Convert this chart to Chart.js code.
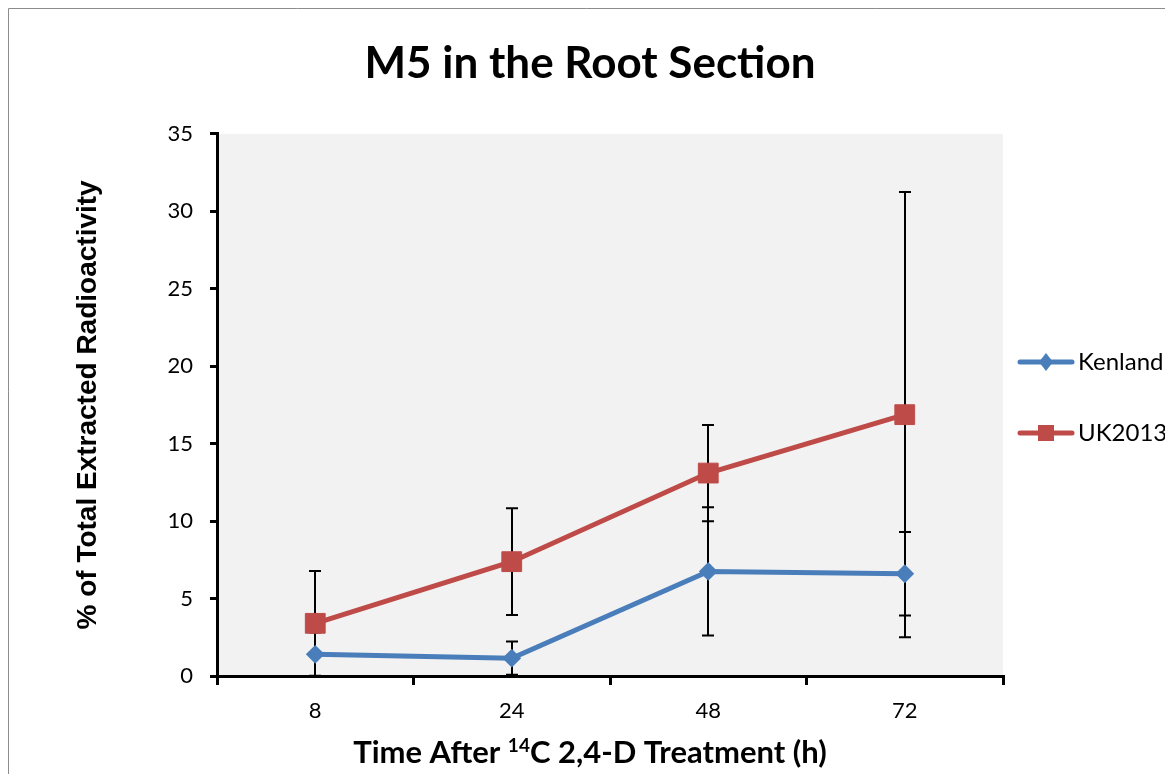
<!DOCTYPE html>
<html>
<head>
<meta charset="utf-8">
<script src="https://cdn.jsdelivr.net/npm/chart.js@4.4.1/dist/chart.umd.min.js"></script>
<style>
  html, body { margin: 0; padding: 0; background: #ffffff; }
  #wrap { width: 1165px; height: 774px; position: relative; }
</style>
</head>
<body>
<div id="wrap"><canvas id="c" width="1165" height="774"></canvas></div>
<script>
// ---- data ----
const categories = ['8', '24', '48', '72'];
const kenland = [1.4, 1.15, 6.75, 6.6];
const kenlandErr = [1.4, 1.07, 4.14, 2.69];
const uk2013 = [3.4, 7.38, 13.1, 16.87];
const uk2013Err = [3.38, 3.45, 3.11, 14.37];
const yMin = 0, yMax = 35, yStep = 5;
const titleText = 'M5 in the Root Section';
const yTitleText = '% of Total Extracted Radioactivity';
const xTitleParts = ['Time After ', '14', 'C 2,4-D Treatment (h)'];

const BLUE = '#4a7ebb';
const RED = '#be4b48';

function legendImage(color, shape) {
  const cv = document.createElement('canvas');
  cv.width = 58; cv.height = 20;
  const g = cv.getContext('2d');
  g.strokeStyle = color; g.lineWidth = 5; g.lineCap = 'round';
  g.beginPath(); g.moveTo(3, 10); g.lineTo(55, 10); g.stroke();
  g.fillStyle = color;
  if (shape === 'diamond') {
    g.beginPath(); g.moveTo(29, 1); g.lineTo(36, 10); g.lineTo(29, 19); g.lineTo(22, 10); g.closePath(); g.fill();
  } else {
    g.fillRect(21, 2, 16, 16);
  }
  return cv;
}
const legendImgs = [legendImage(BLUE, 'diamond'), legendImage(RED, 'square')];

const errorBars = {
  id: 'errorBars',
  beforeDatasetsDraw(chart) {
    const ctx = chart.ctx, ca = chart.chartArea;
    const errs = [kenlandErr, uk2013Err];
    ctx.save();
    ctx.beginPath(); ctx.rect(ca.left, ca.top, ca.right - ca.left, ca.bottom - ca.top); ctx.clip();
    ctx.strokeStyle = '#000'; ctx.lineWidth = 2;
    chart.data.datasets.forEach((ds, di) => {
      const meta = chart.getDatasetMeta(di);
      meta.data.forEach((pt, i) => {
        const v = ds.data[i], e = errs[di][i];
        const y1 = chart.scales.y.getPixelForValue(v + e);
        const y2 = chart.scales.y.getPixelForValue(v - e);
        const x = Math.round(pt.x);
        ctx.beginPath();
        ctx.moveTo(x, y1); ctx.lineTo(x, y2);
        ctx.moveTo(x - 6, y1); ctx.lineTo(x + 6, y1);
        ctx.moveTo(x - 6, y2); ctx.lineTo(x + 6, y2);
        ctx.stroke();
      });
    });
    ctx.restore();
  }
};

const decor = {
  id: 'decor',
  beforeDraw(chart) {
    const ctx = chart.ctx, ca = chart.chartArea;
    ctx.save();
    ctx.fillStyle = '#ffffff'; ctx.fillRect(0, 0, chart.width, chart.height);
    ctx.strokeStyle = '#8c8c8c'; ctx.lineWidth = 1;
    ctx.beginPath(); ctx.moveTo(8.5, chart.height); ctx.lineTo(8.5, 8.5); ctx.lineTo(chart.width, 8.5); ctx.stroke();
    ctx.fillStyle = '#f2f2f2';
    ctx.fillRect(ca.left, ca.top, ca.right - ca.left, ca.bottom - ca.top);
    ctx.restore();
  },
  afterLayout(chart) {
    const lg = chart.legend;
    if (!lg) return;
    lg.left = 979; lg.right = 1165; lg.width = 1165 - 979;
    lg.top = 297; lg.bottom = 498; lg.height = 498 - 297;
  },
  afterDraw(chart) {
    const ctx = chart.ctx;
    ctx.save();
    ctx.fillStyle = '#000';
    ctx.textBaseline = 'alphabetic';
    const big = 'bold 31px Lato', small = 'bold 19px Lato';
    ctx.font = big; const w1 = ctx.measureText(xTitleParts[0]).width;
    const w3 = ctx.measureText(xTitleParts[2]).width;
    ctx.font = small; const w2 = ctx.measureText(xTitleParts[1]).width;
    const total = w1 + w2 + w3;
    let x = 590 - total / 2; const base = 763;
    ctx.textAlign = 'left';
    ctx.font = big; ctx.fillText(xTitleParts[0], x, base); x += w1;
    ctx.font = small; ctx.fillText(xTitleParts[1], x, base - 11); x += w2;
    ctx.font = big; ctx.fillText(xTitleParts[2], x, base);
    ctx.restore();
  }
};

new Chart(document.getElementById('c'), {
  type: 'line',
  data: {
    labels: categories,
    datasets: [
      { label: 'Kenland', data: kenland, borderColor: BLUE, backgroundColor: BLUE, borderWidth: 5,
        pointStyle: 'rectRot', pointRadius: 8, pointBorderWidth: 2, pointBackgroundColor: BLUE, pointBorderColor: BLUE, tension: 0 },
      { label: 'UK2013', data: uk2013, borderColor: RED, backgroundColor: RED, borderWidth: 5,
        pointStyle: 'rect', pointRadius: 14, pointBorderWidth: 1, pointBackgroundColor: RED, pointBorderColor: RED, tension: 0 }
    ]
  },
  options: {
    responsive: false,
    animation: false,
    layout: { padding: { left: 15, right: 0, top: 0, bottom: 0 } },
    plugins: {
      title: { display: true, text: titleText, color: '#000', font: { family: 'Lato', size: 44, weight: 'bold' },
               padding: { top: 37, bottom: 44 } },
      legend: {
        display: true, position: 'right', maxWidth: 162,
        labels: {
          usePointStyle: true, pointStyleWidth: 40, padding: 47, color: '#000',
          font: { family: 'Lato', size: 24 },
          generateLabels(chart) {
            const items = Chart.defaults.plugins.legend.labels.generateLabels(chart);
            items.forEach((it, i) => { it.pointStyle = legendImgs[i]; });
            return items;
          }
        }
      },
      tooltip: { enabled: false }
    },
    scales: {
      x: {
        type: 'category', offset: true,
        grid: { display: true, offset: true, drawOnChartArea: false, drawTicks: true, tickLength: 9, color: '#000', lineWidth: 3 },
        border: { display: true, color: '#000', width: 3 },
        ticks: { color: '#000', font: { family: 'Lato', size: 22 }, padding: 13 },
        afterFit(s) { s.height = 98; }
      },
      y: {
        min: yMin, max: yMax,
        ticks: { stepSize: yStep, color: '#000', font: { family: 'Lato', size: 22 }, padding: 17 },
        grid: { display: true, drawOnChartArea: false, drawTicks: true, tickLength: 7, color: '#000', lineWidth: 3 },
        border: { display: true, color: '#000', width: 3 },
        title: { display: true, text: yTitleText, color: '#000', font: { family: 'Liberation Sans', size: 28, weight: 'bold' },
                 padding: { top: 56, bottom: 0 } },
        afterFit(s) { s.width = 202; }
      }
    }
  },
  plugins: [decor, errorBars]
});
</script>
</body>
</html>
